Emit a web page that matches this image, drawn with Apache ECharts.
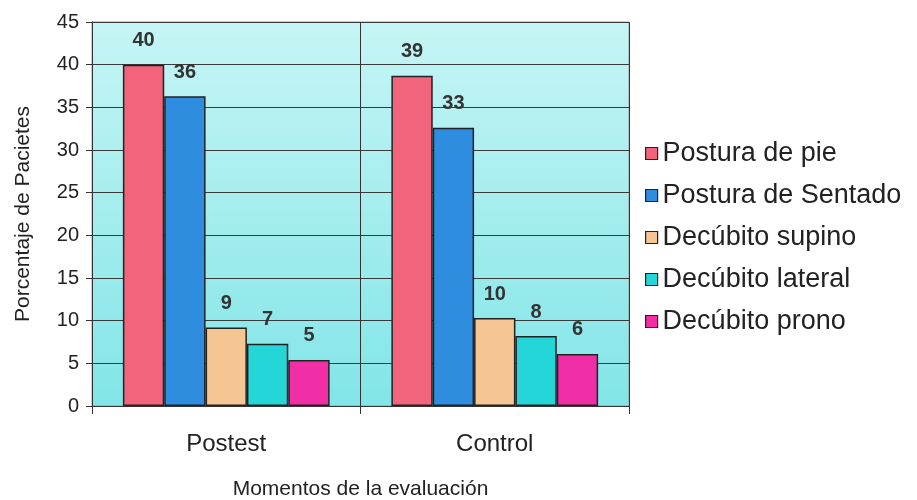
<!DOCTYPE html>
<html>
<head>
<meta charset="utf-8">
<style>
  html, body { margin: 0; padding: 0; background: #ffffff; }
  #chart { width: 917px; height: 500px; }
</style>
<script src="https://cdn.jsdelivr.net/npm/echarts@6/dist/echarts.min.js"></script>
</head>
<body>
<div id="chart"></div>
<script>
// Evaluation moments on the x axis
const categories = ['Postest', 'Control'];

// Percentage of patients per posture, one array per series
const posturaPie      = [40.0, 38.7];
const posturaSentado  = [36.3, 32.6];
const decubitoSupino  = [9.2, 10.3];
const decubitoLateral = [7.3, 8.2];
const decubitoProno   = [5.4, 6.1];

const seriesNames = ['Postura de pie', 'Postura de Sentado', 'Decúbito supino', 'Decúbito lateral', 'Decúbito prono'];
const seriesData = [posturaPie, posturaSentado, decubitoSupino, decubitoLateral, decubitoProno];
const seriesColors = ['#f2647c', '#2f8de0', '#f5c693', '#25d6d8', '#f02ea6'];

const font = '"Liberation Sans", Arial, sans-serif';

const chart = echarts.init(document.getElementById('chart'));
chart.setOption({
  animation: false,
  textStyle: { fontFamily: font },
  grid: {
    left: 92, right: 288, top: 22, bottom: 94,
    containLabel: false,
    outerBoundsMode: 'none',
    show: true,
    borderColor: '#9a9a9a',
    borderWidth: 1,
    backgroundColor: new echarts.graphic.LinearGradient(0, 0, 0, 1, [
      { offset: 0, color: '#c6f5f5' },
      { offset: 1, color: '#82e5e7' }
    ])
  },
  legend: {
    orient: 'vertical',
    left: 640,
    top: 135,
    itemWidth: 12,
    itemHeight: 12,
    itemGap: 15,
    itemTextGap: 3,
    icon: 'rect',
    textStyle: { fontFamily: font, fontSize: 27, color: '#222' },
    data: seriesNames.map(n => ({ name: n, itemStyle: { borderColor: '#222', borderWidth: 1.2 } }))
  },
  xAxis: {
    type: 'category',
    data: categories,
    name: 'Momentos de la evaluación',
    nameLocation: 'middle',
    nameGap: 73,
    nameTextStyle: { fontFamily: font, fontSize: 21, color: '#222' },
    axisLine: { lineStyle: { color: '#333', width: 1 } },
    axisTick: { show: true, length: 8, lineStyle: { color: '#333' } },
    axisLabel: { fontFamily: font, fontSize: 24, color: '#222', margin: 26 },
    splitLine: { show: true, lineStyle: { color: '#333', width: 1 } }
  },
  yAxis: {
    type: 'value',
    min: 0, max: 45, interval: 5,
    name: 'Porcentaje de Pacietes',
    nameLocation: 'middle',
    nameGap: 58,
    nameTextStyle: { fontFamily: font, fontSize: 21, color: '#222' },
    axisLine: { show: true, lineStyle: { color: '#333', width: 1 } },
    axisTick: { show: true, length: 6, lineStyle: { color: '#333' } },
    axisLabel: { fontFamily: font, fontSize: 20, color: '#222', margin: 13 },
    splitLine: { show: true, lineStyle: { color: '#3a3a3a', width: 1 } }
  },
  series: seriesData.map((d, i) => ({
    name: seriesNames[i],
    type: 'bar',
    data: d,
    barGap: '0%',
    barCategoryGap: '23%',
    itemStyle: { color: seriesColors[i], borderColor: '#222', borderWidth: 1.5 },
    label: {
      show: true,
      position: 'top',
      distance: 14,
      fontFamily: font,
      fontSize: 20,
      fontWeight: 'bold',
      color: '#333',
      formatter: p => Math.round(p.value)
    }
  }))
});
</script>
</body>
</html>
